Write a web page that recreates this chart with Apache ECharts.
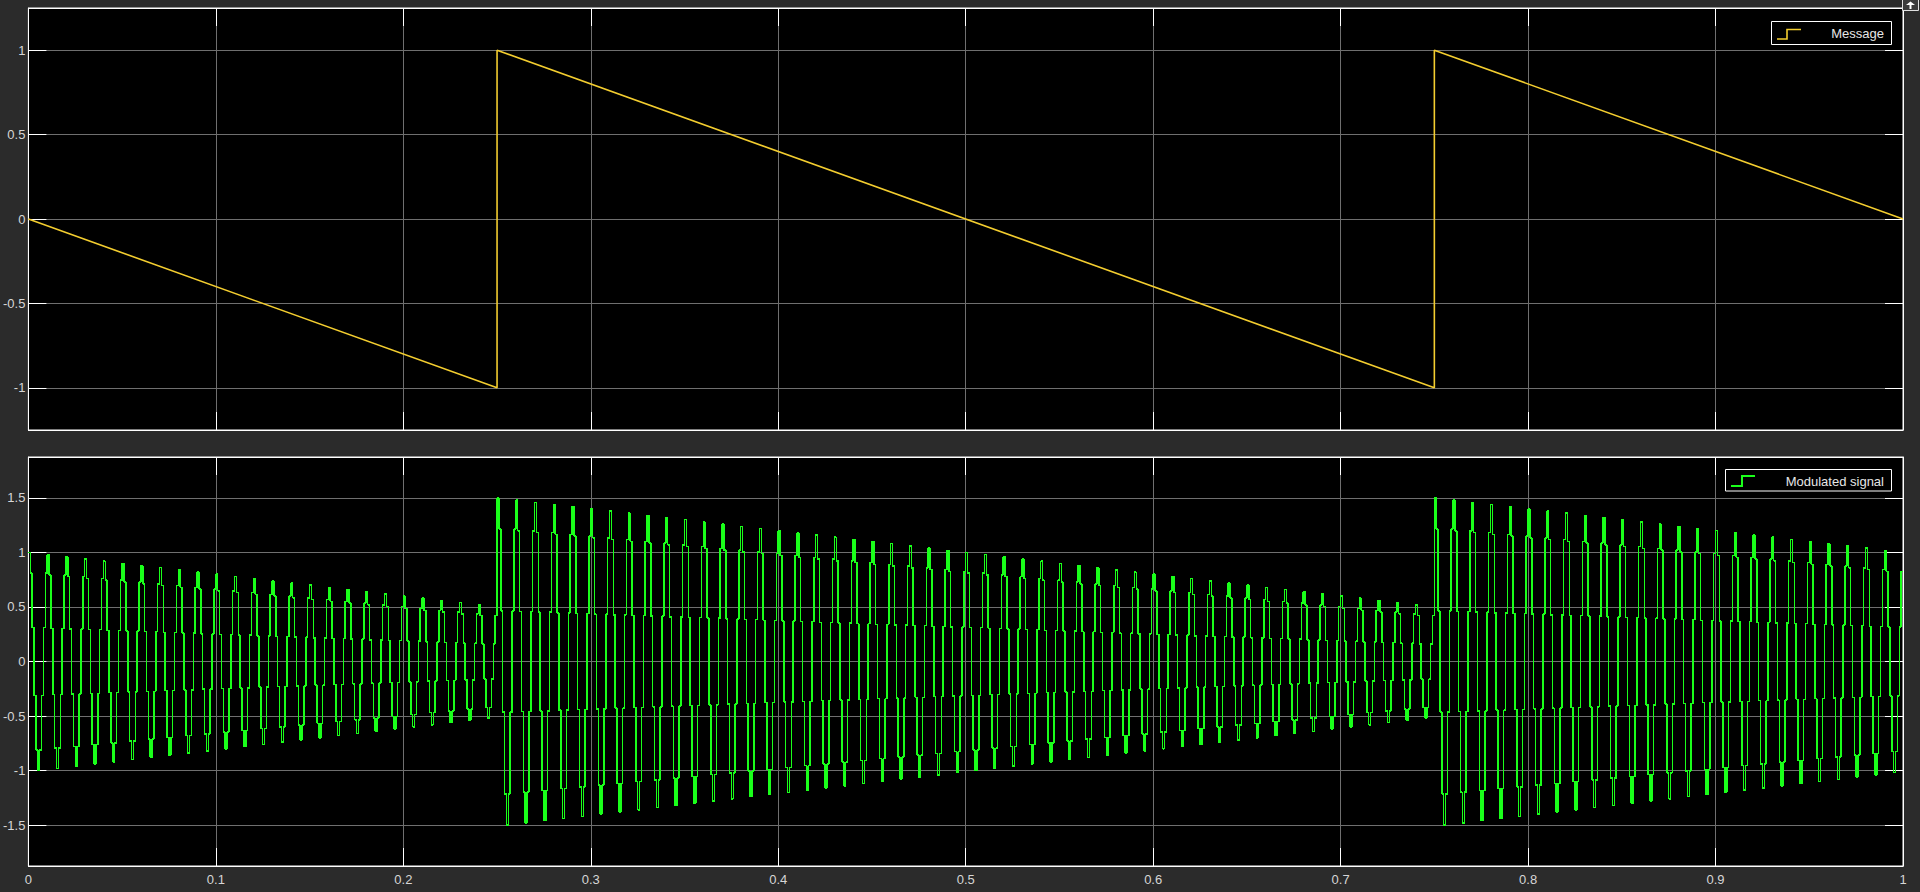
<!DOCTYPE html>
<html>
<head>
<meta charset="utf-8">
<title>Scope</title>
<style>
    html, body { margin: 0; padding: 0; background: #2b2b2b; }
    #scope { width: 1920px; height: 892px; }
    /* scope traces are drawn without anti-aliasing, like the original */
    #scope path[stroke="#1aff1a"],
    #scope path[stroke="rgb(26,255,26)"],
    #scope path[stroke="rgb(26, 255, 26)"] { shape-rendering: crispEdges; }
</style>
</head>
<body>
<div id="scope"></div>
<script src="https://cdn.jsdelivr.net/npm/echarts@6/dist/echarts.min.js"></script>
<script type="text/javascript">
    // message (sawtooth), corner points
    var msgTime = [0, 0.25, 0.25, 0.75, 0.75, 1];
    var msgValue = [0, -1, 1, -1, 1, 0];

    // modulated signal: sample step 1 ms, 10 samples per carrier cycle
    var sampleStep = 0.001;
    // stair levels seen inside one carrier cycle (relative to its peak)
    var carrierLevels = [1, 0.81, 0.31, -0.31, -0.81, -1, -0.81, -0.31, 0.31, 0.81];
    // peak of each of the 100 carrier cycles
    var cyclePeak = [
        1.00, 0.98, 0.96, 0.94, 0.92, 0.90, 0.88, 0.86, 0.84, 0.82,
        0.80, 0.78, 0.76, 0.74, 0.72, 0.70, 0.68, 0.66, 0.64, 0.62,
        0.60, 0.58, 0.56, 0.54, 0.52,
        1.50, 1.48, 1.46, 1.44, 1.42, 1.40, 1.38, 1.36, 1.34, 1.32,
        1.30, 1.28, 1.26, 1.24, 1.22, 1.20, 1.18, 1.16, 1.14, 1.12,
        1.10, 1.08, 1.06, 1.04, 1.02, 1.00, 0.98, 0.96, 0.94, 0.92,
        0.90, 0.88, 0.86, 0.84, 0.82, 0.80, 0.78, 0.76, 0.74, 0.72,
        0.70, 0.68, 0.66, 0.64, 0.62, 0.60, 0.58, 0.56, 0.54, 0.52,
        1.50, 1.48, 1.46, 1.44, 1.42, 1.40, 1.38, 1.36, 1.34, 1.32,
        1.30, 1.28, 1.26, 1.24, 1.22, 1.20, 1.18, 1.16, 1.14, 1.12,
        1.10, 1.08, 1.06, 1.04, 1.02
    ];

    // tick labels
    var timeTicks = [0, 0.1, 0.2, 0.3, 0.4, 0.5, 0.6, 0.7, 0.8, 0.9, 1];
    var msgTicks = [-1, -0.5, 0, 0.5, 1];
    var modTicks = [-1.5, -1, -0.5, 0, 0.5, 1, 1.5];

    var msgData = msgTime.map(function (t, i) { return [t, msgValue[i]]; });
    var modData = [];
    cyclePeak.forEach(function (peak, k) {
        carrierLevels.forEach(function (lv, j) {
            var n = k * carrierLevels.length + j;
            modData.push([+(n * sampleStep).toFixed(3), +(peak * lv).toFixed(4)]);
        });
    });
    // hold the last sample up to the end of the time axis
    modData.push([1, modData[modData.length - 1][1]]);

    var msgColor = '#f3cd2f';
    var modColor = '#1aff1a';
    var labelColor = '#d6d6d6';
    var fontFam = '"Liberation Sans", Arial, sans-serif';

    function tickStyle(values) {
        return { inside: true, length: 18, customValues: values, lineStyle: { color: '#ffffff', width: 1 } };
    }
    var whiteLine = { show: true, onZero: false, lineStyle: { color: '#ffffff', width: 1 } };
    var gridLine = { show: true, lineStyle: { color: '#6f6f6f', width: 1 } };

    function timeAxis(gridIndex, pos, showLabel, showSplit) {
        return {
            type: 'value', gridIndex: gridIndex, position: pos,
            min: 0, max: 1, interval: 0.1,
            axisLine: whiteLine,
            axisTick: tickStyle(timeTicks),
            splitLine: showSplit ? gridLine : { show: false },
            axisLabel: {
                show: showLabel, customValues: timeTicks, color: labelColor, fontSize: 13,
                fontFamily: fontFam, margin: 7,
                formatter: function (v) { return String(+(+v).toFixed(1)); }
            }
        };
    }
    function valAxis(gridIndex, pos, lim, ticks, showLabel) {
        return {
            type: 'value', gridIndex: gridIndex, position: pos,
            min: -lim, max: lim,
            axisLine: whiteLine,
            axisTick: tickStyle(ticks),
            splitLine: showLabel ? gridLine : { show: false },
            axisLabel: {
                show: showLabel, customValues: ticks, color: labelColor, fontSize: 13,
                fontFamily: fontFam, margin: 3,
                formatter: function (v) { return String(+(+v).toFixed(2)); }
            }
        };
    }

    var chart = echarts.init(document.getElementById('scope'), null, { renderer: 'svg' });
    chart.setOption({
        backgroundColor: '#2b2b2b',
        animation: false,
        grid: [
            { left: 26, right: 17, top: 8, height: 422, show: true, backgroundColor: '#000', borderColor: '#fff', borderWidth: 1 },
            { left: 26, right: 17, top: 457, height: 409, show: true, backgroundColor: '#000', borderColor: '#fff', borderWidth: 1 }
        ],
        xAxis: [
            timeAxis(0, 'bottom', false, true),
            timeAxis(0, 'top', false, false),
            timeAxis(1, 'bottom', true, true),
            timeAxis(1, 'top', false, false)
        ],
        yAxis: [
            valAxis(0, 'left', 1.25, msgTicks, true),
            valAxis(0, 'right', 1.25, msgTicks, false),
            valAxis(1, 'left', 1.875, modTicks, true),
            valAxis(1, 'right', 1.875, modTicks, false)
        ],
        series: [
            {
                name: 'Message', type: 'line', xAxisIndex: 0, yAxisIndex: 0,
                data: msgData, showSymbol: false, symbol: 'none',
                lineStyle: { color: msgColor, width: 1.6 }
            },
            {
                name: 'Modulated signal', type: 'line', xAxisIndex: 2, yAxisIndex: 2,
                data: modData, step: 'end', showSymbol: false, symbol: 'none',
                lineStyle: { color: modColor, width: 1.5 }
            }
        ],
        graphic: [
            // legend: Message
            { type: 'rect', shape: { x: 1771.5, y: 21.5, width: 120, height: 23 }, style: { fill: '#000', stroke: '#fff', lineWidth: 1 }, z: 100 },
            { type: 'polyline', shape: { points: [[1777, 39], [1787, 39], [1787, 29.5], [1801, 29.5]] }, style: { fill: null, stroke: msgColor, lineWidth: 1.6 }, z: 101 },
            { type: 'text', x: 1884, y: 33, style: { text: 'Message', fill: '#e6e6e6', font: '13px ' + fontFam, align: 'right', verticalAlign: 'middle' }, z: 101 },
            // legend: Modulated signal
            { type: 'rect', shape: { x: 1725.5, y: 469.5, width: 166, height: 21.5 }, style: { fill: '#000', stroke: '#fff', lineWidth: 1 }, z: 100 },
            { type: 'polyline', shape: { points: [[1731, 486], [1742, 486], [1742, 476], [1755, 476]] }, style: { fill: null, stroke: modColor, lineWidth: 1.6 }, z: 101 },
            { type: 'text', x: 1884, y: 481, style: { text: 'Modulated signal', fill: '#e6e6e6', font: '13px ' + fontFam, align: 'right', verticalAlign: 'middle' }, z: 101 },
            // undock button top right
            { type: 'rect', shape: { x: 1902.5, y: -1, width: 16, height: 11.5 }, style: { fill: '#3c3c3c', stroke: '#e0e0e0', lineWidth: 1 }, z: 100 },
            { type: 'polygon', shape: { points: [[1906, 5], [1910.5, 1.5], [1915, 5]] }, style: { fill: '#ffffff' }, z: 101 },
            { type: 'rect', shape: { x: 1909.5, y: 5, width: 2, height: 4 }, style: { fill: '#ffffff' }, z: 101 }
        ]
    });
</script>
</body>
</html>
